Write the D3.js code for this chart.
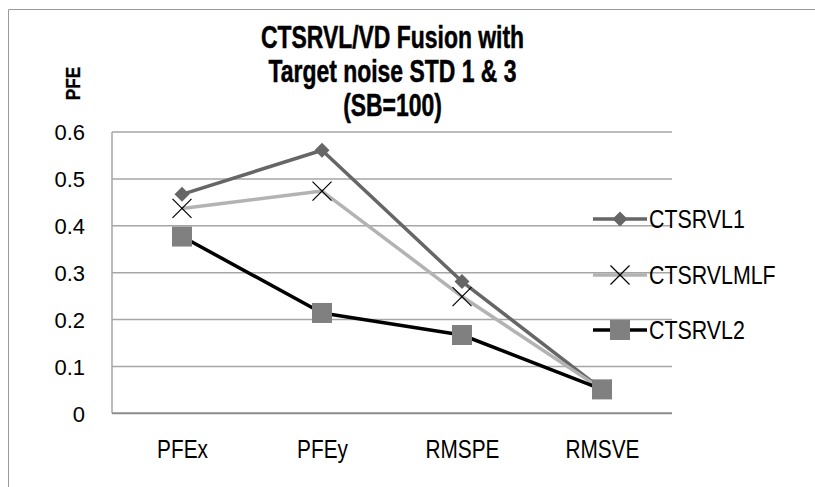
<!DOCTYPE html>
<html><head><meta charset="utf-8">
<script src="https://cdn.jsdelivr.net/npm/d3@7"></script>
<style>body{margin:0;background:#fff}svg{display:block}text{font-family:"Liberation Sans",Arial,sans-serif}</style>
</head><body>
<script>
const categories = ["PFEx","PFEy","RMSPE","RMSVE"];
const seriesNames = ["CTSRVL1","CTSRVLMLF","CTSRVL2"];
const ctsrvl1 = [0.467, 0.561, 0.281, 0.051];
const ctsrvlmlf = [0.437, 0.474, 0.249, 0.051];
const ctsrvl2 = [0.377, 0.214, 0.167, 0.051];
const yTicks = [0, 0.1, 0.2, 0.3, 0.4, 0.5, 0.6];
const titleLines = ["CTSRVL/VD Fusion with","Target noise STD 1 & 3","(SB=100)"];

const W=815,H=487;
const svg=d3.select("body").append("svg").attr("width",W).attr("height",H);
// outer border (top + left)
svg.append("line").attr("x1",8.5).attr("x2",W).attr("y1",9.5).attr("y2",9.5).attr("stroke","#999").attr("stroke-width",1);
svg.append("line").attr("x1",8.5).attr("x2",8.5).attr("y1",9.5).attr("y2",H).attr("stroke","#999").attr("stroke-width",1);

const L=112,R=672,T=132,B=413.3;
const x=d3.scalePoint().domain(categories).range([L,R]).padding(0.5);
const y=d3.scaleLinear().domain([0,0.6]).range([B,T]);

// gridlines
svg.append("g").selectAll("line").data(yTicks.filter(d=>d>0)).join("line")
 .attr("x1",L).attr("x2",R).attr("y1",d=>y(d)).attr("y2",d=>y(d))
 .attr("stroke","#a6a6a6").attr("stroke-width",1.5);
// left axis line
svg.append("line").attr("x1",L).attr("x2",L).attr("y1",T).attr("y2",B).attr("stroke","#a6a6a6").attr("stroke-width",1.5);
// y axis labels
const yAxis=d3.axisLeft(y).tickValues(yTicks).tickFormat(d=>d===0?"0":d3.format(".1f")(d)).tickSize(0).tickPadding(27);
const ya=svg.append("g").attr("transform",`translate(${L},0)`).call(yAxis);
ya.select(".domain").remove();
ya.selectAll("text").attr("font-size",22).attr("fill","#000").attr("font-family","Liberation Sans").attr("dy","0.36em");
// x axis
svg.append("line").attr("x1",L).attr("x2",R).attr("y1",B).attr("y2",B).attr("stroke","#8c8c8c").attr("stroke-width",2);
const xAxis=d3.axisBottom(x).tickSize(0).tickPadding(0);
const xa=svg.append("g").attr("transform",`translate(0,${B})`).call(xAxis);
xa.select(".domain").remove();
xa.selectAll("text").attr("font-size",26).attr("fill","#000").attr("font-family","Liberation Sans")
  .attr("y",0).attr("dy",0).attr("transform","translate(0,44.7) scale(0.8,1)");

// title
svg.append("g").selectAll("text").data(titleLines).join("text")
 .attr("transform",(d,i)=>`translate(392.5,${48+i*34}) scale(0.74,1)`).attr("text-anchor","middle")
 .attr("font-size",31).attr("font-weight","bold").attr("fill","#000")
 .attr("stroke","#000").attr("stroke-width",0.5).text(d=>d);
// y title
svg.append("text").attr("transform","translate(80,83.5) rotate(-90) scale(0.82,1)").attr("text-anchor","middle")
 .attr("font-size",21).attr("font-weight","bold").attr("stroke","#000").attr("stroke-width",0.3).text("PFE");

const series=[
 {name:seriesNames[0],values:ctsrvl1,color:"#666666",marker:"diamond"},
 {name:seriesNames[1],values:ctsrvlmlf,color:"#b3b3b3",marker:"x"},
 {name:seriesNames[2],values:ctsrvl2,color:"#000000",marker:"square"}
];
const line=d3.line().x((d,i)=>x(categories[i])).y(d=>y(d));
function drawMarker(g,type,cx,cy){
 if(type==="diamond"){
  g.append("path").attr("d",`M${cx},${cy-7.5}L${cx+7.5},${cy}L${cx},${cy+7.5}L${cx-7.5},${cy}Z`).attr("fill","#666666");
 } else if(type==="x"){
  g.append("path").attr("d",`M${cx-9.5},${cy-9.5}L${cx+9.5},${cy+9.5}M${cx-9.5},${cy+9.5}L${cx+9.5},${cy-9.5}`).attr("stroke","#000").attr("stroke-width",1.2).attr("fill","none");
 } else {
  g.append("rect").attr("x",cx-10).attr("y",cy-10).attr("width",20).attr("height",20).attr("fill","#808080");
 }
}
const sg=svg.append("g");
series.forEach(s=>{
 sg.append("path").datum(s.values).attr("d",line).attr("fill","none").attr("stroke",s.color).attr("stroke-width",3.5).attr("stroke-linejoin","round");
});
series.forEach(s=>{
 s.values.forEach((v,i)=>drawMarker(sg,s.marker,x(categories[i]),y(v)));
});
// legend
const legY=[219,275,330];
series.forEach((s,i)=>{
 const g=svg.append("g");
 g.append("line").attr("x1",593).attr("x2",647).attr("y1",legY[i]).attr("y2",legY[i]).attr("stroke",s.color).attr("stroke-width",3.5);
 drawMarker(g,s.marker,620,legY[i]);
 g.append("text").attr("transform",`translate(649,${legY[i]+9}) scale(0.855,1)`).attr("font-size",25).attr("fill","#000").text(s.name);
});
</script>
</body></html>
